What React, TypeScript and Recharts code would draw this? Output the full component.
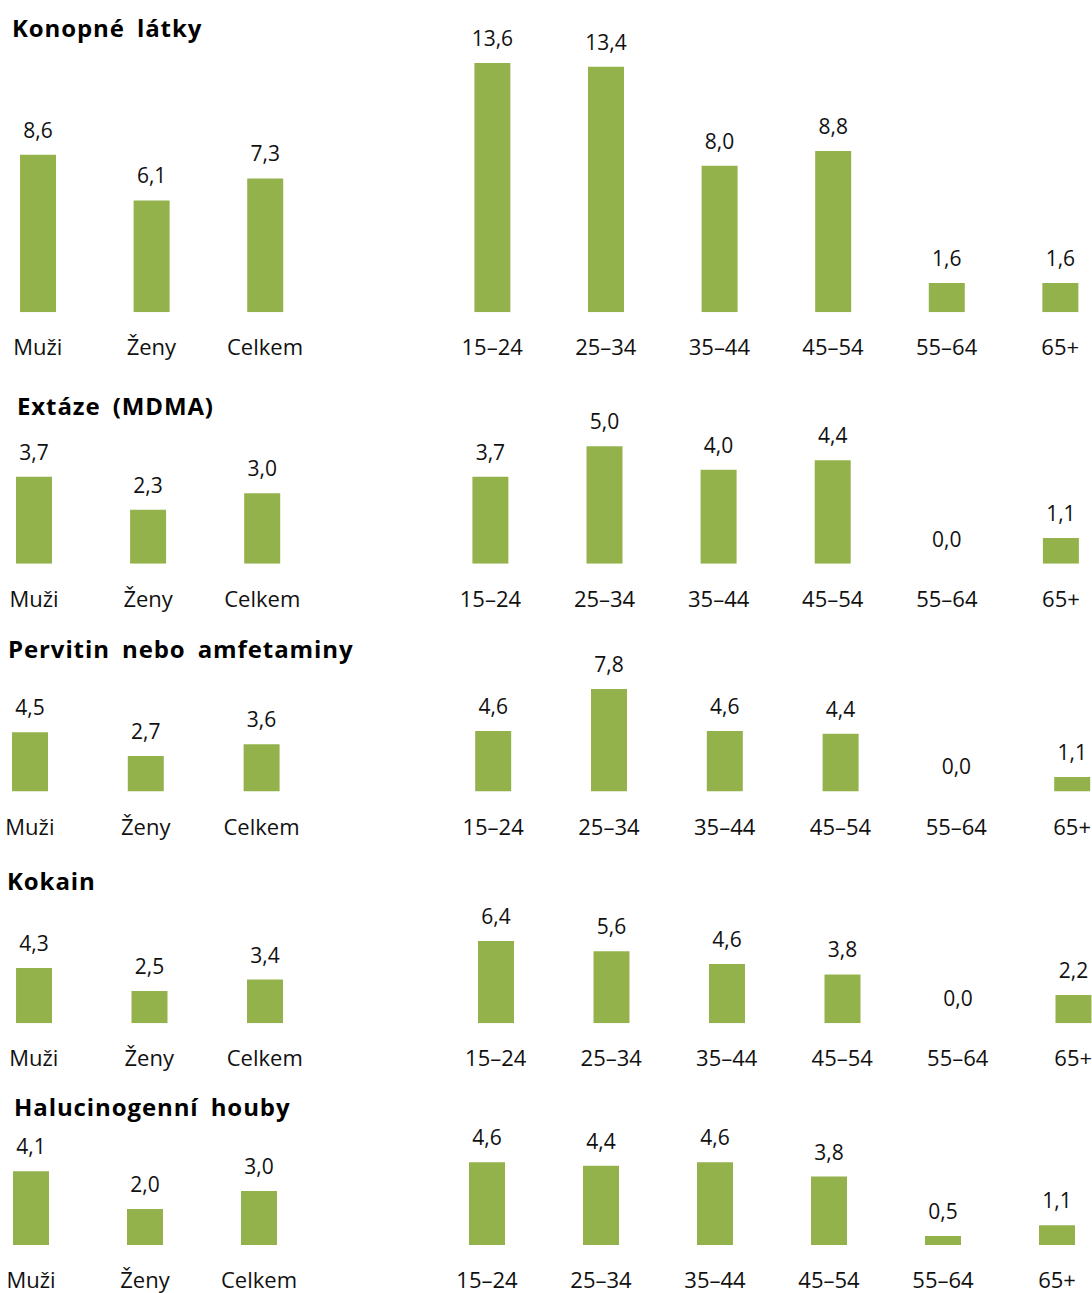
import { BarChart, Bar, XAxis, YAxis, LabelList } from 'recharts'

const SEXES = ['Muži', 'Ženy', 'Celkem']
const AGES = ['15–24', '25–34', '35–44', '45–54', '55–64', '65+']

const konopneSex = [8.6, 6.1, 7.3]
const konopneAge = [13.6, 13.4, 8.0, 8.8, 1.6, 1.6]

const extazeSex = [3.7, 2.3, 3.0]
const extazeAge = [3.7, 5.0, 4.0, 4.4, 0.0, 1.1]

const pervitinSex = [4.5, 2.7, 3.6]
const pervitinAge = [4.6, 7.8, 4.6, 4.4, 0.0, 1.1]

const kokainSex = [4.3, 2.5, 3.4]
const kokainAge = [6.4, 5.6, 4.6, 3.8, 0.0, 2.2]

const houbySex = [4.1, 2.0, 3.0]
const houbyAge = [4.6, 4.4, 4.6, 3.8, 0.5, 1.1]

const GREEN = '#94B24C'
const FONT = "'Open Sans', sans-serif"

// layout per panel row (baseline y, px per unit, first bar centre, slot width)
const ROWS = [
  { title: 'Konopné látky', sex: konopneSex, age: konopneAge, titleX: 12, titleY: 37, base: 312.7, scale: 18.33, first: 37.8, step: 113.6, ymax: 16 },
  { title: 'Extáze (MDMA)', sex: extazeSex, age: extazeAge, titleX: 17, titleY: 415.7, base: 564, scale: 23.5, first: 33.7, step: 114.1, ymax: 6.5 },
  { title: 'Pervitin nebo amfetaminy', sex: pervitinSex, age: pervitinAge, titleX: 8, titleY: 658.3, base: 791.7, scale: 13.15, first: 29.7, step: 115.8, ymax: 10 },
  { title: 'Kokain', sex: kokainSex, age: kokainAge, titleX: 7, titleY: 890, base: 1023.7, scale: 12.85, first: 33.7, step: 115.5, ymax: 8.5 },
  { title: 'Halucinogenní houby', sex: houbySex, age: houbyAge, titleX: 14, titleY: 1116.7, base: 1245, scale: 18.0, first: 30.5, step: 114, ymax: 6 },
]

const fmt = (v: number) => v.toFixed(1).replace('.', ',')

const renderTick = (props: any) => {
  const { x, y, payload } = props
  return (
    <text x={x} y={y + 43} textAnchor="middle" fontSize={22} fontFamily={FONT} fill="#111">
      {payload.value}
    </text>
  )
}

const renderValue = (props: any) => {
  const { x, y, width, value } = props
  if (value == null || Number.isNaN(Number(value))) return null
  return (
    <text x={x + width / 2} y={y - 17} textAnchor="middle" fontSize={21} fontFamily={FONT} fill="#111">
      {fmt(Number(value))}
    </text>
  )
}

function Row({ row }: { row: (typeof ROWS)[number] }) {
  const data = [
    ...SEXES.map((name, i) => ({ name, value: row.sex[i] })),
    { name: '', value: null },
    ...AGES.map((name, i) => ({ name, value: row.age[i] })),
  ]
  const top = 40
  const plotH = row.ymax * row.scale
  const width = row.step * data.length
  const height = top + plotH + 60

  return (
    <>
      <div
        style={{
          position: 'absolute',
          left: row.titleX,
          top: row.titleY - 21.3,
          fontFamily: FONT,
          fontWeight: 700,
          fontSize: 24,
          lineHeight: '24px',
          letterSpacing: 0.9,
          wordSpacing: 5,
          whiteSpace: 'nowrap',
          color: '#000',
        }}
      >
        {row.title}
      </div>
      <div style={{ position: 'absolute', left: row.first - row.step / 2, top: row.base - plotH - top }}>
        <BarChart width={width} height={height} data={data} margin={{ top, right: 0, bottom: 0, left: 0 }}>
          <XAxis
            dataKey="name"
            axisLine={false}
            tickLine={false}
            tickSize={0}
            tickMargin={0}
            height={60}
            interval={0}
            tick={renderTick}
          />
          <YAxis hide domain={[0, row.ymax]} allowDataOverflow />
          <Bar dataKey="value" fill={GREEN} barSize={36} minPointSize={0.01} isAnimationActive={false}>
            <LabelList dataKey="value" content={renderValue} />
          </Bar>
        </BarChart>
      </div>
    </>
  )
}

export default function App() {
  return (
    <div
      style={{
        position: 'absolute',
        left: 0,
        top: 0,
        width: 1092,
        height: 1293,
        overflow: 'hidden',
        background: '#fff',
      }}
    >
      {ROWS.map((row) => (
        <Row key={row.title} row={row} />
      ))}
    </div>
  )
}
